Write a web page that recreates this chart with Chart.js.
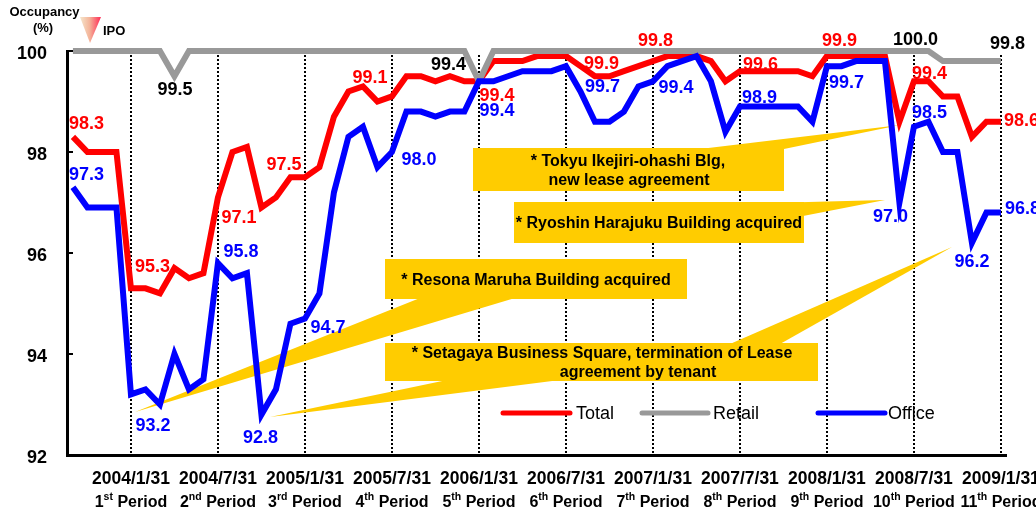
<!DOCTYPE html>
<html><head><meta charset="utf-8">
<script src="https://cdn.jsdelivr.net/npm/chart.js@4/dist/chart.umd.min.js"></script>
<style>html,body{margin:0;padding:0;background:#fff;}#wrap{width:1036px;height:512px;}</style>
</head><body><div id="wrap"><canvas id="c" width="1036" height="512"></canvas></div>
<script>
const months = ['2003/09','2003/10','2003/11','2003/12',
'2004/01','2004/02','2004/03','2004/04','2004/05','2004/06','2004/07','2004/08','2004/09','2004/10','2004/11','2004/12',
'2005/01','2005/02','2005/03','2005/04','2005/05','2005/06','2005/07','2005/08','2005/09','2005/10','2005/11','2005/12',
'2006/01','2006/02','2006/03','2006/04','2006/05','2006/06','2006/07','2006/08','2006/09','2006/10','2006/11','2006/12',
'2007/01','2007/02','2007/03','2007/04','2007/05','2007/06','2007/07','2007/08','2007/09','2007/10','2007/11','2007/12',
'2008/01','2008/02','2008/03','2008/04','2008/05','2008/06','2008/07','2008/08','2008/09','2008/10','2008/11','2008/12',
'2009/01'];

const total = [98.3, 98.0, 98.0, 98.0,
95.3, 95.3, 95.2, 95.7, 95.5, 95.6,
97.1, 98.0, 98.1, 96.9, 97.1, 97.5,
97.5, 97.7, 98.7, 99.2, 99.3, 99.0,
99.1, 99.5, 99.5, 99.4, 99.5, 99.4,
99.4, 99.8, 99.8, 99.8, 99.9, 99.9,
99.9, 99.7, 99.5, 99.5, 99.6, 99.7,
99.8, 99.9, 99.9, 99.9, 99.8, 99.4,
99.6, 99.6, 99.6, 99.6, 99.6, 99.5,
99.9, 99.9, 99.9, 99.9, 99.9, 98.6,
99.4, 99.4, 99.1, 99.1, 98.3, 98.6,
98.6];

const retail = [100, 100, 100, 100,
100, 100, 100, 99.5, 100, 100,
100, 100, 100, 100, 100, 100,
100, 100, 100, 100, 100, 100,
100, 100, 100, 100, 100, 100,
99.4, 100, 100, 100, 100, 100,
100, 100, 100, 100, 100, 100,
100, 100, 100, 100, 100, 100,
100, 100, 100, 100, 100, 100,
100, 100, 100, 100, 100, 100,
100, 100, 99.8, 99.8, 99.8, 99.8,
99.8];

const office = [97.3, 96.9, 96.9, 96.9,
93.2, 93.3, 93.0, 94.0, 93.3, 93.5,
95.8, 95.5, 95.6, 92.8, 93.3, 94.6,
94.7, 95.2, 97.2, 98.3, 98.5, 97.7,
98.0, 98.8, 98.8, 98.7, 98.8, 98.8,
99.4, 99.4, 99.5, 99.6, 99.6, 99.6,
99.7, 99.2, 98.6, 98.6, 98.8, 99.3,
99.4, 99.7, 99.8, 99.9, 99.4, 98.4,
98.9, 98.9, 98.9, 98.9, 98.9, 98.6,
99.7, 99.7, 99.8, 99.8, 99.8, 97.0,
98.5, 98.6, 98.0, 98.0, 96.2, 96.8,
96.8];

const seriesNames = ['Total', 'Retail', 'Office'];
const periodIdx = [4, 10, 16, 22, 28, 34, 40, 46, 52, 58, 64];
const periodDates = ['2004/1/31','2004/7/31','2005/1/31','2005/7/31','2006/1/31','2006/7/31','2007/1/31','2007/7/31','2008/1/31','2008/7/31','2009/1/31'];
const periodNums = ['1','2','3','4','5','6','7','8','9','10','11'];
const periodSups = ['st','nd','rd','th','th','th','th','th','th','th','th'];
const yTicks = [92, 94, 96, 98, 100];

const COLORS = ['#FF0000', '#999999', '#0000FF'];
const TEXTCOL = ['#FF0000', '#000000', '#0000FF'];
const FONT = 'Arial, "Liberation Sans", Helvetica, sans-serif';

// value labels: series, index, offset from point
const valueLabels = [
 {s:0,i:0,dx:13.5,dy:-13.5},{s:2,i:0,dx:13.5,dy:-13},{s:1,i:7,dx:0.5,dy:13},
 {s:0,i:16,dx:-21,dy:-13.5},{s:0,i:4,dx:21.5,dy:-22},{s:2,i:4,dx:22,dy:31},
 {s:0,i:10,dx:21,dy:19.5},{s:2,i:10,dx:23,dy:-12},{s:2,i:13,dx:-1,dy:22},
 {s:2,i:16,dx:23,dy:8.5},{s:0,i:22,dx:-22,dy:-19.5},{s:2,i:22,dx:27,dy:7},
 {s:1,i:28,dx:-30.5,dy:-17},{s:0,i:28,dx:18,dy:14},{s:2,i:28,dx:18,dy:28.5},
 {s:0,i:34,dx:35.5,dy:7},{s:2,i:34,dx:36.5,dy:20},{s:0,i:40,dx:2.5,dy:-21},
 {s:2,i:40,dx:23,dy:5.5},{s:0,i:46,dx:20.5,dy:-7.5},{s:2,i:46,dx:19.5,dy:-10},
 {s:0,i:52,dx:12.5,dy:-16},{s:2,i:52,dx:19.5,dy:15.5},{s:1,i:58,dx:1.5,dy:-12},
 {s:0,i:58,dx:15.5,dy:-8.5},{s:2,i:58,dx:15.5,dy:-15},{s:1,i:64,dx:6.5,dy:-18},
 {s:0,i:64,dx:20.5,dy:-2},{s:2,i:57,dx:-9,dy:14},{s:2,i:62,dx:0,dy:18},
 {s:2,i:64,dx:21.5,dy:-5}
];

const callouts = [
 {box:[473,148,311,43], lines:[['* Tokyu Ikejiri-ohashi Blg,',628,161],['new lease agreement',629,180]],
  wedges:[[[700,149],[900,125],[784,149]]]},
 {box:[514,202,290,41], lines:[['* Ryoshin Harajuku Building acquired',659,223]],
  wedges:[[[770,203],[885,200],[803,216]]]},
 {box:[385,259,302,40], lines:[['* Resona Maruha Building acquired',536,280]],
  wedges:[[[420,298],[135,412],[515,298]]]},
 {box:[385,343,433,38], lines:[['* Setagaya Business Square, termination of Lease',602,353],['agreement by tenant',638,372]],
  wedges:[[[447,380],[270,417],[560,380]],[[730,344],[952,247],[780,344]]]}
];

const legendItems = [{s:0,x1:503,x2:570,tx:576},{s:1,x1:642,x2:708,tx:713},{s:2,x1:818,x2:885,tx:888}];

const decor = {
  id:'decor',
  beforeDatasetsDraw(chart){
    const ctx = chart.ctx, xs = chart.scales.x, ca = chart.chartArea;
    ctx.save();
    ctx.strokeStyle = '#000'; ctx.lineWidth = 2; ctx.setLineDash([2,2]);
    periodIdx.forEach(i=>{
      const x = Math.round(xs.getPixelForValue(i));
      ctx.beginPath(); ctx.moveTo(x, ca.top+4); ctx.lineTo(x, ca.bottom-2); ctx.stroke();
    });
    ctx.setLineDash([]);
    ctx.fillStyle = '#FFCC00';
    callouts.forEach(c=>{
      c.wedges.forEach(w=>{
        ctx.beginPath(); ctx.moveTo(w[0][0],w[0][1]);
        for(let k=1;k<w.length;k++) ctx.lineTo(w[k][0],w[k][1]);
        ctx.closePath(); ctx.fill();
      });
      ctx.fillRect(c.box[0],c.box[1],c.box[2],c.box[3]);
    });
    ctx.fillStyle = '#000'; ctx.font = 'bold 16px '+FONT; ctx.textAlign='center'; ctx.textBaseline='middle';
    callouts.forEach(c=>c.lines.forEach(l=>ctx.fillText(l[0],l[1],l[2]+1)));
    ctx.restore();
  },
  afterDatasetsDraw(chart){
    const ctx = chart.ctx, xs = chart.scales.x, ys = chart.scales.y, ca = chart.chartArea;
    const series = [total, retail, office];
    ctx.save();
    ctx.strokeStyle='#000'; ctx.lineWidth=2;
    yTicks.forEach(v=>{ const y=Math.round(ys.getPixelForValue(v)); ctx.beginPath(); ctx.moveTo(ca.left,y); ctx.lineTo(ca.left+6,y); ctx.stroke(); });
    ctx.font='bold 18px '+FONT; ctx.textAlign='center'; ctx.textBaseline='middle';
    valueLabels.forEach(l=>{
      const v = series[l.s][l.i];
      const x = xs.getPixelForValue(l.i)+l.dx, y = ys.getPixelForValue(v)+l.dy;
      ctx.fillStyle = TEXTCOL[l.s];
      ctx.fillText(v.toFixed(1), x, y+1);
    });
    legendItems.forEach(li=>{
      ctx.strokeStyle = COLORS[li.s]; ctx.lineWidth=5; ctx.lineCap='round';
      ctx.beginPath(); ctx.moveTo(li.x1,413); ctx.lineTo(li.x2,413); ctx.stroke();
      ctx.fillStyle='#000'; ctx.font='18px '+FONT; ctx.textAlign='left'; ctx.textBaseline='middle';
      ctx.fillText(seriesNames[li.s], li.tx, 414);
    });
    ctx.fillStyle='#000';
    periodIdx.forEach((i,k)=>{
      const x = xs.getPixelForValue(i);
      ctx.font='bold 17.5px '+FONT; ctx.textAlign='center'; ctx.textBaseline='middle';
      ctx.fillText(periodDates[k], x, 479);
      const big='bold 16px '+FONT, small='bold 10.5px '+FONT;
      ctx.font=big; const w1=ctx.measureText(periodNums[k]).width, w3=ctx.measureText(' Period').width;
      ctx.font=small; const w2=ctx.measureText(periodSups[k]).width;
      let sx = x-(w1+w2+w3)/2;
      ctx.textAlign='left';
      ctx.font=big; ctx.fillText(periodNums[k], sx, 503);
      ctx.font=small; ctx.fillText(periodSups[k], sx+w1, 497);
      ctx.font=big; ctx.fillText(' Period', sx+w1+w2, 503);
    });
    ctx.font='bold 13px '+FONT; ctx.textAlign='center'; ctx.textBaseline='middle';
    ctx.fillText('Occupancy', 44.5, 12.5);
    ctx.fillText('(%)', 43, 28.5);
    ctx.textAlign='left';
    ctx.fillText('IPO', 103, 31);
    const g = ctx.createLinearGradient(80,0,101,0);
    g.addColorStop(0,'#F5E6CC'); g.addColorStop(0.45,'#F4B59A'); g.addColorStop(1,'#FF2A55');
    ctx.fillStyle=g; ctx.beginPath(); ctx.moveTo(80,17); ctx.lineTo(101,17); ctx.lineTo(90,43); ctx.closePath(); ctx.fill();
    ctx.restore();
  }
};

const mk = (arr)=>arr.map((v,i)=>({x:i,y:v}));
new Chart(document.getElementById('c'), {
  type:'line',
  data:{ labels: months, datasets:[
    {label:seriesNames[0], data:mk(total), borderColor:COLORS[0], borderWidth:6, pointRadius:0, tension:0, clip:false, order:2},
    {label:seriesNames[1], data:mk(retail), borderColor:COLORS[1], borderWidth:6, pointRadius:0, tension:0, clip:false, order:1},
    {label:seriesNames[2], data:mk(office), borderColor:COLORS[2], borderWidth:6, pointRadius:0, tension:0, clip:false, order:0}
  ]},
  options:{
    responsive:false, animation:false, devicePixelRatio:1,
    layout:{padding:{left:0, top:51, right:30, bottom:0}},
    plugins:{legend:{display:false}, tooltip:{enabled:false}},
    scales:{
      x:{type:'linear', min:-0.41, max:64.35,
         afterBuildTicks:(s)=>{ s.ticks = periodIdx.map(v=>({value:v})); },
         ticks:{display:false}, grid:{display:false, drawTicks:false},
         border:{display:true, color:'#000', width:3},
         afterFit:(s)=>{ s.height = 57; }},
      y:{min:92, max:100,
         afterBuildTicks:(s)=>{ s.ticks = yTicks.map(v=>({value:v})); },
         ticks:{color:'#000', font:{family:FONT, size:18, weight:'bold'}, padding:20, labelOffset:3},
         grid:{display:false, drawTicks:false},
         border:{display:true, color:'#000', width:3},
         afterFit:(s)=>{ s.width = 67; }}
    }
  },
  plugins:[decor]
});
</script></body></html>
